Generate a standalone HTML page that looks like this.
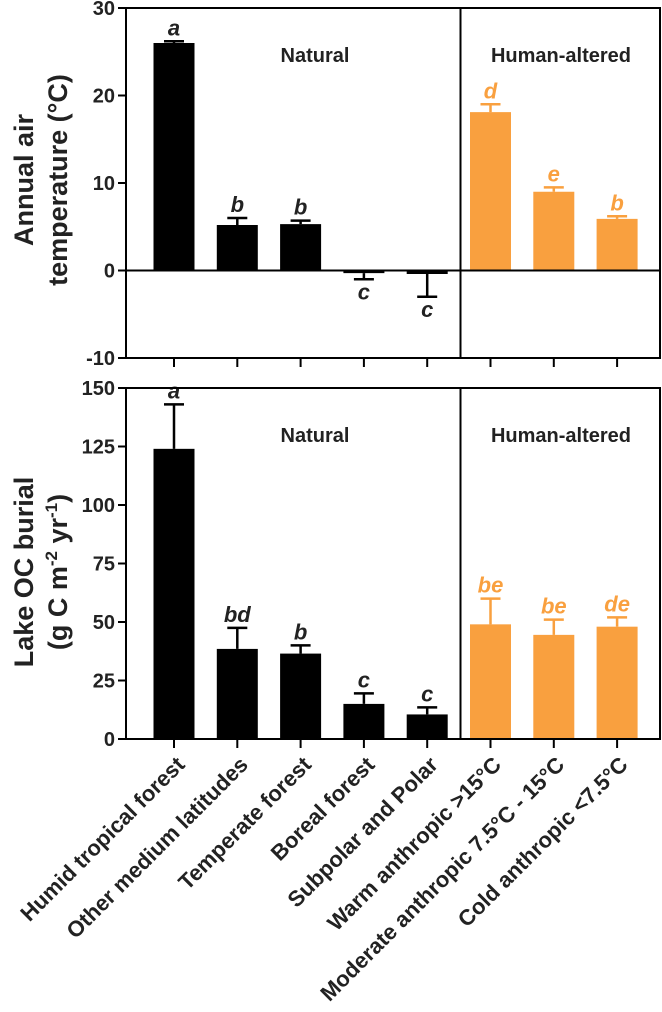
<!DOCTYPE html>
<html><head><meta charset="utf-8"><style>
html,body{margin:0;padding:0;background:#fff;}
svg{display:block;font-family:"Liberation Sans",Arial,sans-serif;}
</style></head><body>
<svg id="chart" width="662" height="1012" viewBox="0 0 662 1012"></svg>
<script>
const categories=["Humid tropical forest","Other medium latitudes","Temperate forest","Boreal forest","Subpolar and Polar","Warm anthropic >15°C","Moderate anthropic 7.5°C - 15°C","Cold anthropic <7.5°C"];
const tempValues=[26.0,5.2,5.3,-0.3,-0.4,18.1,9.0,5.9];
const tempErrors=[0.2,0.8,0.4,0.7,2.6,0.9,0.5,0.3];
const tempLetters=["a","b","b","c","c","d","e","b"];
const burialValues=[124,38.5,36.5,15,10.5,49,44.5,48];
const burialErrors=[19,9,3.5,4.5,3,11,6.5,4];
const burialLetters=["a","bd","b","c","c","be","be","de"];
const tempTicks=[30,20,10,0,-10];
const burialTicks=[150,125,100,75,50,25,0];
const groups=["Natural","Natural","Natural","Natural","Natural","Human-altered","Human-altered","Human-altered"];

const NS="http://www.w3.org/2000/svg";
const svg=document.getElementById('chart');
function mk(tag,attrs,parent){const e=document.createElementNS(NS,tag);for(const k in attrs)e.setAttribute(k,attrs[k]);(parent||svg).appendChild(e);return e;}
const X0=126,XR=660,DIV=460.5,STEP=63.3,FIRST=174,BW=41;
function xPos(i){return FIRST+i*STEP;}
const orange="#F9A03F";

function panel(name,top,bottom,ymin,ymax,ticks,values,errors,letters,titleLines,titleY){
  const g=mk('g',{},svg);
  
  
  const y=v=>bottom-(v-ymin)/(ymax-ymin)*(bottom-top);
  values.forEach((v,i)=>{
    const col=groups[i]==="Natural"?"#000":orange;
    const y0=y(0),yv=y(v);
    const r=mk('rect',{x:xPos(i)-BW/2,y:Math.min(y0,yv),width:BW,height:Math.max(1.5,Math.abs(y0-yv)),fill:col},g);
    
    
    const sign=v<0?-1:1;
    const ye=y(v+sign*errors[i]);
    const el=mk('path',{d:`M${xPos(i)},${yv}V${ye}M${xPos(i)-10},${ye}H${xPos(i)+10}`,stroke:col,'stroke-width':2.5,fill:'none'},g);
    
    
    const ly=v<0?Math.max(ye,y0)+20:ye-6;
    const t=mk('text',{x:xPos(i),y:ly,'text-anchor':'middle','font-size':22,'font-weight':'bold','font-style':'italic',fill:col==="#000"?"#222":orange},g);
    t.textContent=letters[i];
    
    
  });
  const z=mk('line',{x1:X0,x2:XR,y1:y(0),y2:y(0),stroke:'#000','stroke-width':2},g);
  
  const f=mk('path',{d:`M${X0},${top}H${XR}V${bottom}H${X0}ZM${DIV},${top}V${bottom}`,stroke:'#000','stroke-width':2,fill:'none'},g);
  
  ticks.forEach(tv=>{
    const ty=y(tv);
    mk('line',{x1:X0-8,x2:X0,y1:ty,y2:ty,stroke:'#000','stroke-width':2},g);
    const t=mk('text',{x:X0-11,y:ty+7,'text-anchor':'end','font-size':20,'font-weight':'bold',fill:'#222'},g);
    t.textContent=tv;
    
    
  });
  categories.forEach((c,i)=>{mk('line',{x1:xPos(i),x2:xPos(i),y1:bottom,y2:bottom+9,stroke:'#000','stroke-width':2},g);});
  const n=mk('text',{x:315,y:top+54,'text-anchor':'middle','font-size':20,'font-weight':'bold',fill:'#222'},g);
  n.textContent="Natural";
  const h=mk('text',{x:561,y:top+54,'text-anchor':'middle','font-size':20,'font-weight':'bold',fill:'#222'},g);
  h.textContent="Human-altered";
  const tt=mk('text',{transform:`translate(50,${titleY}) rotate(-90)`,'text-anchor':'middle','font-size':27,'font-weight':'bold',fill:'#222'},g);
  
  titleLines.forEach((ln,k)=>{const s=mk('tspan',{x:0,y:(k-0.5)*34},tt);s.innerHTML=ln;});
  return g;
}
panel('temperature',8,358,-10,30,tempTicks,tempValues,tempErrors,tempLetters,["Annual air","temperature (°C)"],180);
panel('burial',388,739,0,150,burialTicks,burialValues,burialErrors,burialLetters,["Lake OC burial","(g C m<tspan font-size='17' dy='-10'>-2</tspan><tspan dy='10'> yr</tspan><tspan font-size='17' dy='-10'>-1</tspan><tspan dy='10'>)</tspan>"],572);
categories.forEach((c,i)=>{
  const t=mk('text',{transform:`translate(${xPos(i)+12},${766}) rotate(-45)`,'text-anchor':'end','font-size':22,'font-weight':'bold',fill:'#222'});
  t.textContent=c;
  
  
});
</script>
</body></html>
